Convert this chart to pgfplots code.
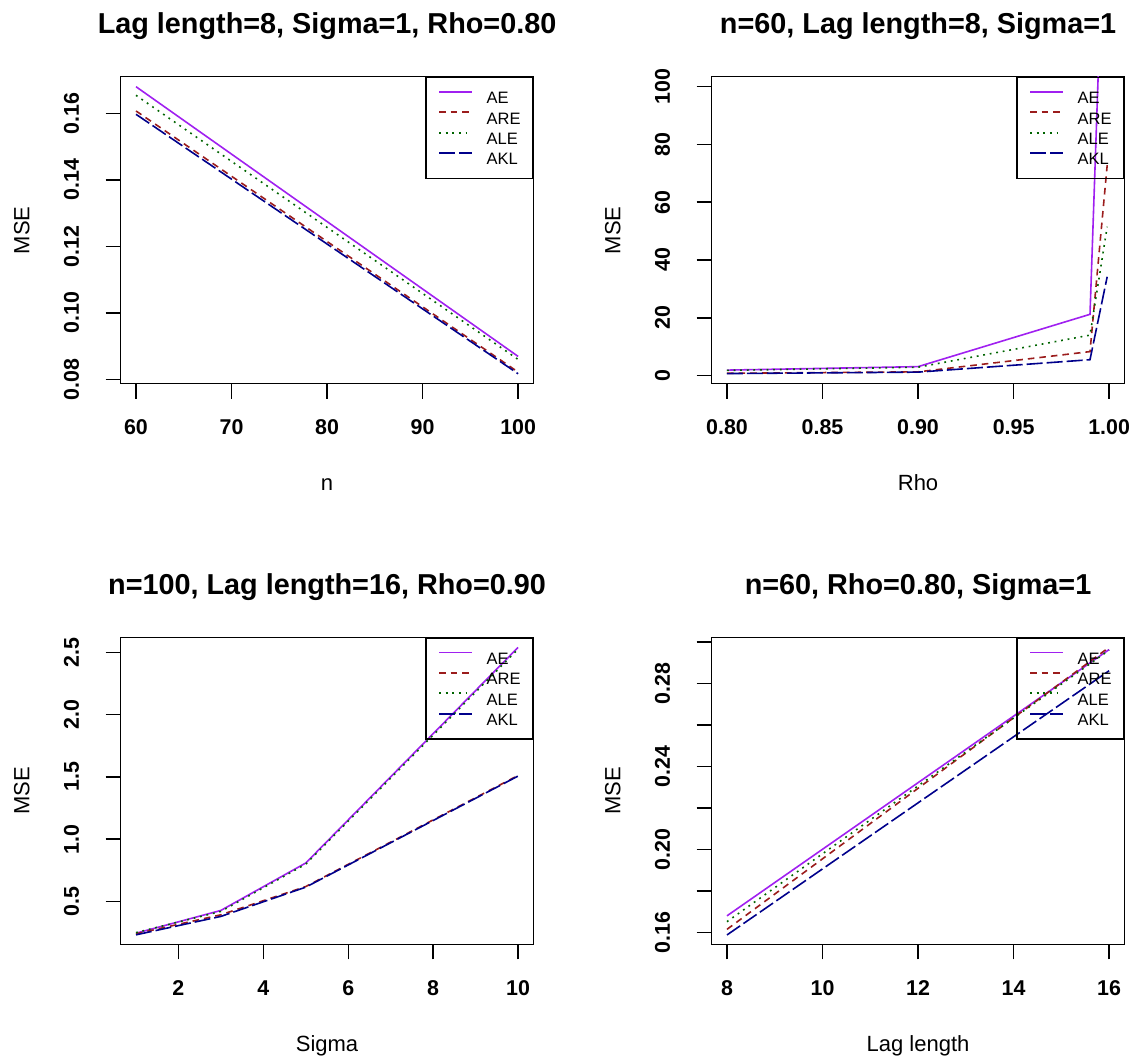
\documentclass[border=0pt]{standalone}
\usepackage{fontspec}
\setmainfont{Liberation Sans}
\usepackage{pgfplots}
\pgfplotsset{compat=1.18}
\usetikzlibrary{calc}
\definecolor{cAE}{HTML}{A020F0}
\definecolor{cARE}{HTML}{9B1C1C}
\definecolor{cALE}{HTML}{006400}
\definecolor{cAKL}{HTML}{00008B}
\pgfplotsset{
  rplot/.style={
    scale only axis, width=206.35pt, height=153.5pt, anchor=south west,
    axis line style={line width=0.75pt},
    tick align=outside, major tick length=7.5pt,
    every tick/.style={black, line width=0.75pt},
    xtick pos=left, ytick pos=left, minor tick num=0,
    scaled x ticks=false, scaled y ticks=false,
    /pgf/number format/assume math mode=true,
    tick label style={font=\fontsize{10.7}{12}\bfseries\selectfont},
    xticklabel style={anchor=base, inner sep=0pt},
    xticklabel shift=17.85pt,
    yticklabel style={rotate=90, anchor=base, inner sep=0pt},
    yticklabel shift=13.4pt,
    label style={font=\fontsize{11}{13}\selectfont},
    xlabel style={at={($(axis description cs:0.5,0)+(0,-53.4pt)$)}, anchor=base},
    ylabel style={at={($(axis description cs:0,0.5)+(-49.5pt,0)$)}, anchor=center},
    title style={at={($(axis description cs:0.5,1)+(0,15.5pt)$)}, anchor=base, font=\fontsize{14.4}{16}\bfseries\selectfont},
    legend style={at={(1,1)}, anchor=north east, draw=black, line width=0.75pt, fill=none,
      font=\fontsize{8.25}{9.5}\selectfont, inner xsep=6pt, inner ysep=6.75pt,
      row sep=3.85pt, column sep=7pt,
      nodes={inner sep=0pt, text height=5.9pt, text depth=0pt}, cells={anchor=west}},
    legend image code/.code={\draw[#1, line width=0.9pt] (0pt,2.95pt) -- (16.35pt,2.95pt);},
    sAE/.style={color=cAE, draw=cAE, line width=0.8pt, solid},
    sARE/.style={color=cARE, draw=cARE, line width=0.8pt, dash pattern=on 3.3pt off 2.5pt},
    sALE/.style={color=cALE, draw=cALE, line width=0.8pt, dash pattern=on 0.9pt off 2.4pt},
    sAKL/.style={color=cAKL, draw=cAKL, line width=0.8pt, dash pattern=on 8pt off 2pt},
  }
}
\begin{document}
\begin{tikzpicture}
\path[use as bounding box] (0,0) rectangle (568.5pt,528.5pt);
% Panel 1
\begin{axis}[rplot, at={(60.35pt,336.65pt)},
  title={Lag length=8, Sigma=1, Rho=0.80}, xlabel={n}, ylabel={MSE},
  xmin=58.4, xmax=101.6, ymin=0.0787, ymax=0.1710,
  xtick={60,70,80,90,100}, xticklabels={60,70,80,90,100},
  ytick={0.08,0.10,0.12,0.14,0.16}, yticklabels={0.08,0.10,0.12,0.14,0.16}]
\addplot[sAE] coordinates {(60,0.1680) (100,0.0869)};
\addplot[sARE] coordinates {(60,0.1607) (100,0.0822)};
\addplot[sALE] coordinates {(60,0.1654) (100,0.0860)};
\addplot[sAKL] coordinates {(60,0.1597) (100,0.0817)};
\legend{AE,ARE,ALE,AKL}
\end{axis}
% Panel 2
\begin{axis}[rplot, at={(355.85pt,336.65pt)},
  title={n=60, Lag length=8, Sigma=1}, xlabel={Rho}, ylabel={MSE},
  xmin=0.792, xmax=1.008, ymin=-2.8, ymax=103.4,
  xtick={0.80,0.85,0.90,0.95,1.00}, xticklabels={0.80,0.85,0.90,0.95,1.00},
  ytick={0,20,40,60,80,100}, yticklabels={0,20,40,60,80,100}]
\addplot[sAE] coordinates {(0.80,1.9) (0.90,3.1) (0.99,21.2) (0.999,195)};
\addplot[sARE] coordinates {(0.80,0.8) (0.90,1.3) (0.99,8.3) (0.999,72.8)};
\addplot[sALE] coordinates {(0.80,1.8) (0.90,2.9) (0.99,14.0) (0.999,51.5)};
\addplot[sAKL] coordinates {(0.80,0.7) (0.90,1.2) (0.99,5.5) (0.999,34.2)};
\legend{AE,ARE,ALE,AKL}
\end{axis}
% Panel 3
\begin{axis}[rplot, at={(60.35pt,56.35pt)},
  title={n=100, Lag length=16, Rho=0.90}, xlabel={Sigma}, ylabel={MSE},
  xmin=0.64, xmax=10.36, ymin=0.156, ymax=2.621,
  xtick={2,4,6,8,10}, xticklabels={2,4,6,8,10},
  ytick={0.5,1.0,1.5,2.0,2.5}, yticklabels={0.5,1.0,1.5,2.0,2.5}]
\addplot[sAE] coordinates {(1,0.245) (3,0.428) (5,0.809) (10,2.540)};
\addplot[sARE] coordinates {(1,0.240) (3,0.393) (5,0.620) (10,1.512)};
\addplot[sALE] coordinates {(1,0.250) (3,0.420) (5,0.800) (10,2.527)};
\addplot[sAKL] coordinates {(1,0.232) (3,0.380) (5,0.615) (10,1.507)};
\legend{AE,ARE,ALE,AKL}
\end{axis}
% Panel 4
\begin{axis}[rplot, at={(355.85pt,56.35pt)},
  title={n=60, Rho=0.80, Sigma=1}, xlabel={Lag length}, ylabel={MSE},
  xmin=7.68, xmax=16.32, ymin=0.1544, ymax=0.3022,
  xtick={8,10,12,14,16}, xticklabels={8,10,12,14,16},
  ytick={0.16,0.18,0.20,0.22,0.24,0.26,0.28,0.30}, yticklabels={0.16,,0.20,,0.24,,0.28,}]
\addplot[sAE] coordinates {(8,0.1681) (16,0.2963)};
\addplot[sARE] coordinates {(8,0.1616) (16,0.2974)};
\addplot[sALE] coordinates {(8,0.1653) (16,0.2960)};
\addplot[sAKL] coordinates {(8,0.1589) (16,0.2861)};
\legend{AE,ARE,ALE,AKL}
\end{axis}
\end{tikzpicture}
\end{document}
